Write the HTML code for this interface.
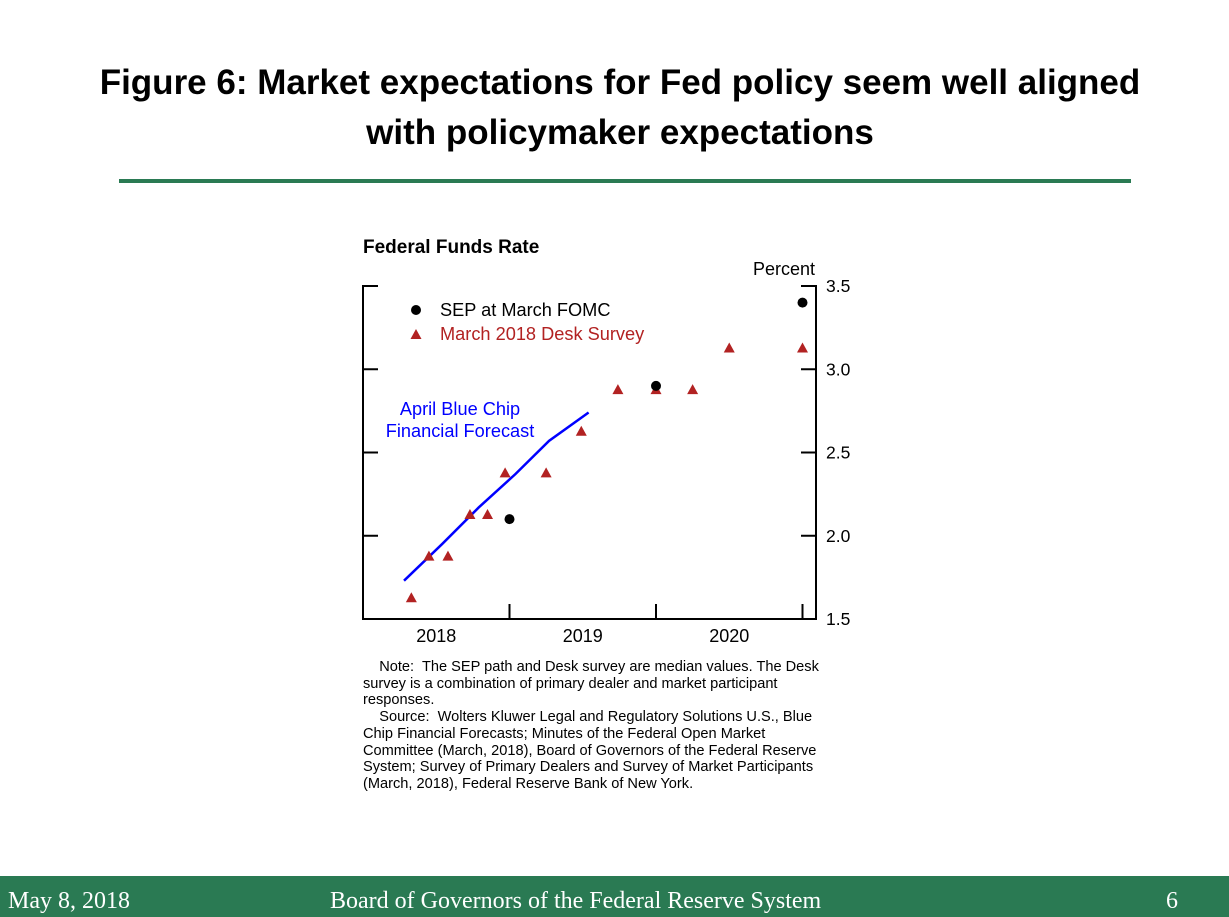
<!DOCTYPE html>
<html><head><meta charset="utf-8"><style>
body{margin:0;width:1229px;height:917px;background:#fff;position:relative;overflow:hidden;font-family:"Liberation Sans",sans-serif}
.t{position:absolute;left:0;width:1240px;text-align:center;font-weight:bold;font-size:35px;color:#000;line-height:50px}
.note{position:absolute;left:363px;top:659px;width:472px;font-size:14.6px;line-height:16.7px;color:#000}
.foot{position:absolute;left:0;top:876px;width:1229px;height:41px;background:#2a7a53;color:#fff;font-family:"Liberation Serif",serif;font-size:24px}
.foot span{position:absolute;top:12px}
</style></head><body>
<div class="t" style="top:58px">Figure 6: Market expectations for Fed policy seem well aligned<br>with policymaker expectations</div>
<div style="position:absolute;left:119px;top:179px;width:1012px;height:4px;background:#2a7a53"></div>
<svg id="chart" width="1229" height="917" style="position:absolute;left:0;top:0" font-family="Liberation Sans, sans-serif"></svg>
<div class="note">&nbsp;&nbsp;&nbsp;&nbsp;Note:&nbsp; The SEP path and Desk survey are median values. The Desk survey is a combination of primary dealer and market participant responses.<br>&nbsp;&nbsp;&nbsp;&nbsp;Source:&nbsp; Wolters Kluwer Legal and Regulatory Solutions U.S., Blue Chip Financial Forecasts; Minutes of the Federal Open Market Committee (March, 2018), Board of Governors of the Federal Reserve System; Survey of Primary Dealers and Survey of Market Participants (March, 2018), Federal Reserve Bank of New York.</div>
<div class="foot">
<span style="left:8px">May 8, 2018</span>
<span style="left:330px">Board of Governors of the Federal Reserve System</span>
<span style="left:1166px">6</span>
</div>
<script>
const yTicks=[1.5,2.0,2.5,3.0,3.5];
const yearLabels=["2018","2019","2020"];
const deskX=[0.33,0.45,0.58,0.73,0.85,0.97,1.25,1.49,1.74,2.0,2.25,2.5,3.0];
const deskY=[1.625,1.875,1.875,2.125,2.125,2.375,2.375,2.625,2.875,2.875,2.875,3.125,3.125];
const sepX=[1.0,2.0,3.0];
const sepY=[2.1,2.9,3.4];
const bcX=[0.28,0.54,0.79,1.04,1.27,1.54];
const bcY=[1.73,1.95,2.17,2.37,2.57,2.74];
const L=363,R=816,T=286,B=619,YW=146.5;
const xs=v=>L+v*YW;
const ys=v=>B-(v-1.5)*(B-T)/2;
const svg=document.getElementById('chart');
const NS='http://www.w3.org/2000/svg';
function mk(tag,at,txt){const e=document.createElementNS(NS,tag);for(const k in at)e.setAttribute(k,at[k]);if(txt!=null)e.textContent=txt;svg.appendChild(e);return e;}
let e;
e=mk('text',{x:363,y:253,'font-size':19,'font-weight':'bold'},'Federal Funds Rate');


e=mk('text',{x:815,y:275,'font-size':18,'text-anchor':'end'},'Percent');


e=mk('path',{d:`M${L+15},${T}H${L}V${B}H${R}V${T}H${R-15}`,fill:'none',stroke:'#000','stroke-width':2});


yTicks.forEach(v=>{
 if(v>1.5&&v<3.5){
  e=mk('line',{x1:L,x2:L+15,y1:ys(v),y2:ys(v),stroke:'#000','stroke-width':2});
  
  
  e=mk('line',{x1:R-15,x2:R,y1:ys(v),y2:ys(v),stroke:'#000','stroke-width':2});
  
  
 }
 e=mk('text',{x:826,y:ys(v)+6,'font-size':17.5},v.toFixed(1));
 
 
});
[1,2,3].forEach(i=>{
 e=mk('line',{x1:xs(i),x2:xs(i),y1:B,y2:B-15,stroke:'#000','stroke-width':2});
 
 
});
yearLabels.forEach((l,i)=>{
 e=mk('text',{x:xs(i+0.5),y:642,'font-size':18,'text-anchor':'middle'},l);
 
 
});
e=mk('polyline',{points:bcX.map((x,i)=>xs(x)+','+ys(bcY[i])).join(' '),fill:'none',stroke:'#0000ff','stroke-width':2.5});


deskX.forEach((x,i)=>{
 const cx=xs(x),cy=ys(deskY[i]);
 e=mk('polygon',{points:`${cx},${cy-6} ${cx-5.5},${cy+4} ${cx+5.5},${cy+4}`,fill:'#b22222'});
 
 
});
sepX.forEach((x,i)=>{
 e=mk('circle',{cx:xs(x),cy:ys(sepY[i]),r:5,fill:'#000'});
 
 
});
e=mk('circle',{cx:416,cy:310,r:5,fill:'#000'});


e=mk('text',{x:440,y:316,'font-size':18.2},'SEP at March FOMC');


e=mk('polygon',{points:'416,329 410.5,339 421.5,339',fill:'#b22222'});


e=mk('text',{x:440,y:340,'font-size':18.2,fill:'#b22222'},'March 2018 Desk Survey');


e=mk('text',{x:460,y:415,'font-size':18.2,fill:'#0000ff','text-anchor':'middle'},'April Blue Chip');


e=mk('text',{x:460,y:437,'font-size':18.2,fill:'#0000ff','text-anchor':'middle'},'Financial Forecast');


</script>
</body></html>
